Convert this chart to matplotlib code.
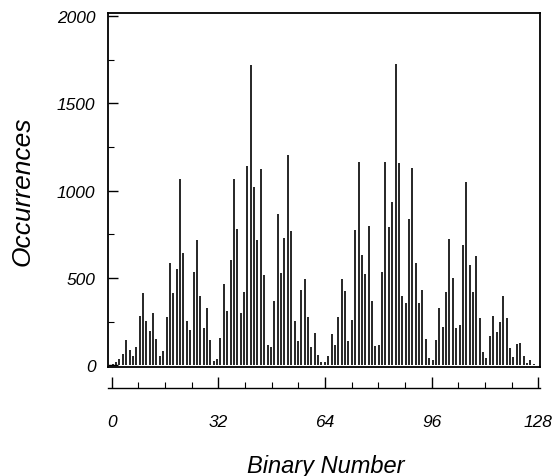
import matplotlib.pyplot as plt
import numpy as np

plt.rcParams['font.family'] = ['Liberation Sans', 'DejaVu Sans']

# Occurrences of each binary number 0..127
counts = [5, 20, 38, 67, 146, 85, 51, 103, 283, 416, 254, 198, 302, 152, 55, 82, 275, 587,
          412, 553, 1065, 640, 252, 203, 534, 716, 397, 213, 327, 142, 27, 38, 154, 465, 313, 602,
          1065, 781, 298, 422, 1141, 1722, 1020, 720, 1124, 517, 118, 103, 369, 864, 526, 731, 1206, 769,
          251, 137, 431, 492, 279, 103, 186, 57, 17, 17, 51, 180, 114, 275, 492, 423, 137, 260, 777,
          1164, 631, 520, 798, 370, 108, 118, 536, 1162, 792, 934, 1725, 1157, 397, 359, 839, 1130, 583,
          359, 431, 150, 42, 32, 142, 330, 218, 422, 722, 501, 215, 230, 691, 1047, 574, 420, 625,
          270, 76, 42, 165, 283, 188, 245, 399, 268, 97, 46, 122, 127, 55, 13, 32, 5, 0, 0]
numbers = np.arange(len(counts))
y_ticks = [0, 500, 1000, 1500, 2000]
x_ticks = [0, 32, 64, 96, 128]

W, H = 560, 477
fig = plt.figure(figsize=(W / 100, H / 100), dpi=100)

# main panel with the bars
ax = fig.add_axes([108 / W, 1 - 368 / H, 432 / W, 354 / H])
ax.vlines(numbers, 0, counts, color='#151515', linewidth=1.3)
ax.set_xlim(-1.4, 126.9)
ax.set_ylim(-10, 2017)
ax.set_xticks([])
ax.set_yticks(y_ticks)
ax.set_yticks(np.arange(250, 2000, 500), minor=True)
ax.set_yticklabels([str(v) for v in y_ticks], fontstyle='italic', fontsize=12.5)
ax.tick_params(axis='y', which='major', direction='in', length=7, width=1, pad=9)
ax.tick_params(axis='y', which='minor', direction='in', length=4, width=0.8)
for s in ax.spines.values():
    s.set_linewidth(1.3)
ax.set_ylabel('Occurrences', fontstyle='italic', fontsize=19)
ax.yaxis.set_label_coords(-0.17, 0.5)

# separate scale underneath
ax2 = fig.add_axes([108 / W, 1 - 389 / H, 432 / W, 0.0001])
for name in ['top', 'left', 'right']:
    ax2.spines[name].set_visible(False)
ax2.spines['bottom'].set_linewidth(1.0)
ax2.set_xlim(-1.1, 128.5)
ax2.set_yticks([])
ax2.set_xticks(x_ticks)
ax2.set_xticks(np.arange(8, 128, 8), minor=True)
ax2.set_xticklabels([str(v) for v in x_ticks], fontstyle='italic', fontsize=12.5)
ax2.tick_params(axis='x', which='major', direction='in', length=8, width=1, pad=19)
ax2.tick_params(axis='x', which='minor', direction='in', length=4, width=0.8)

fig.text(326 / W, 1 - 467 / H, 'Binary Number', ha='center', va='center',
         fontstyle='italic', fontsize=17)

fig.savefig('out.png', dpi=100)
